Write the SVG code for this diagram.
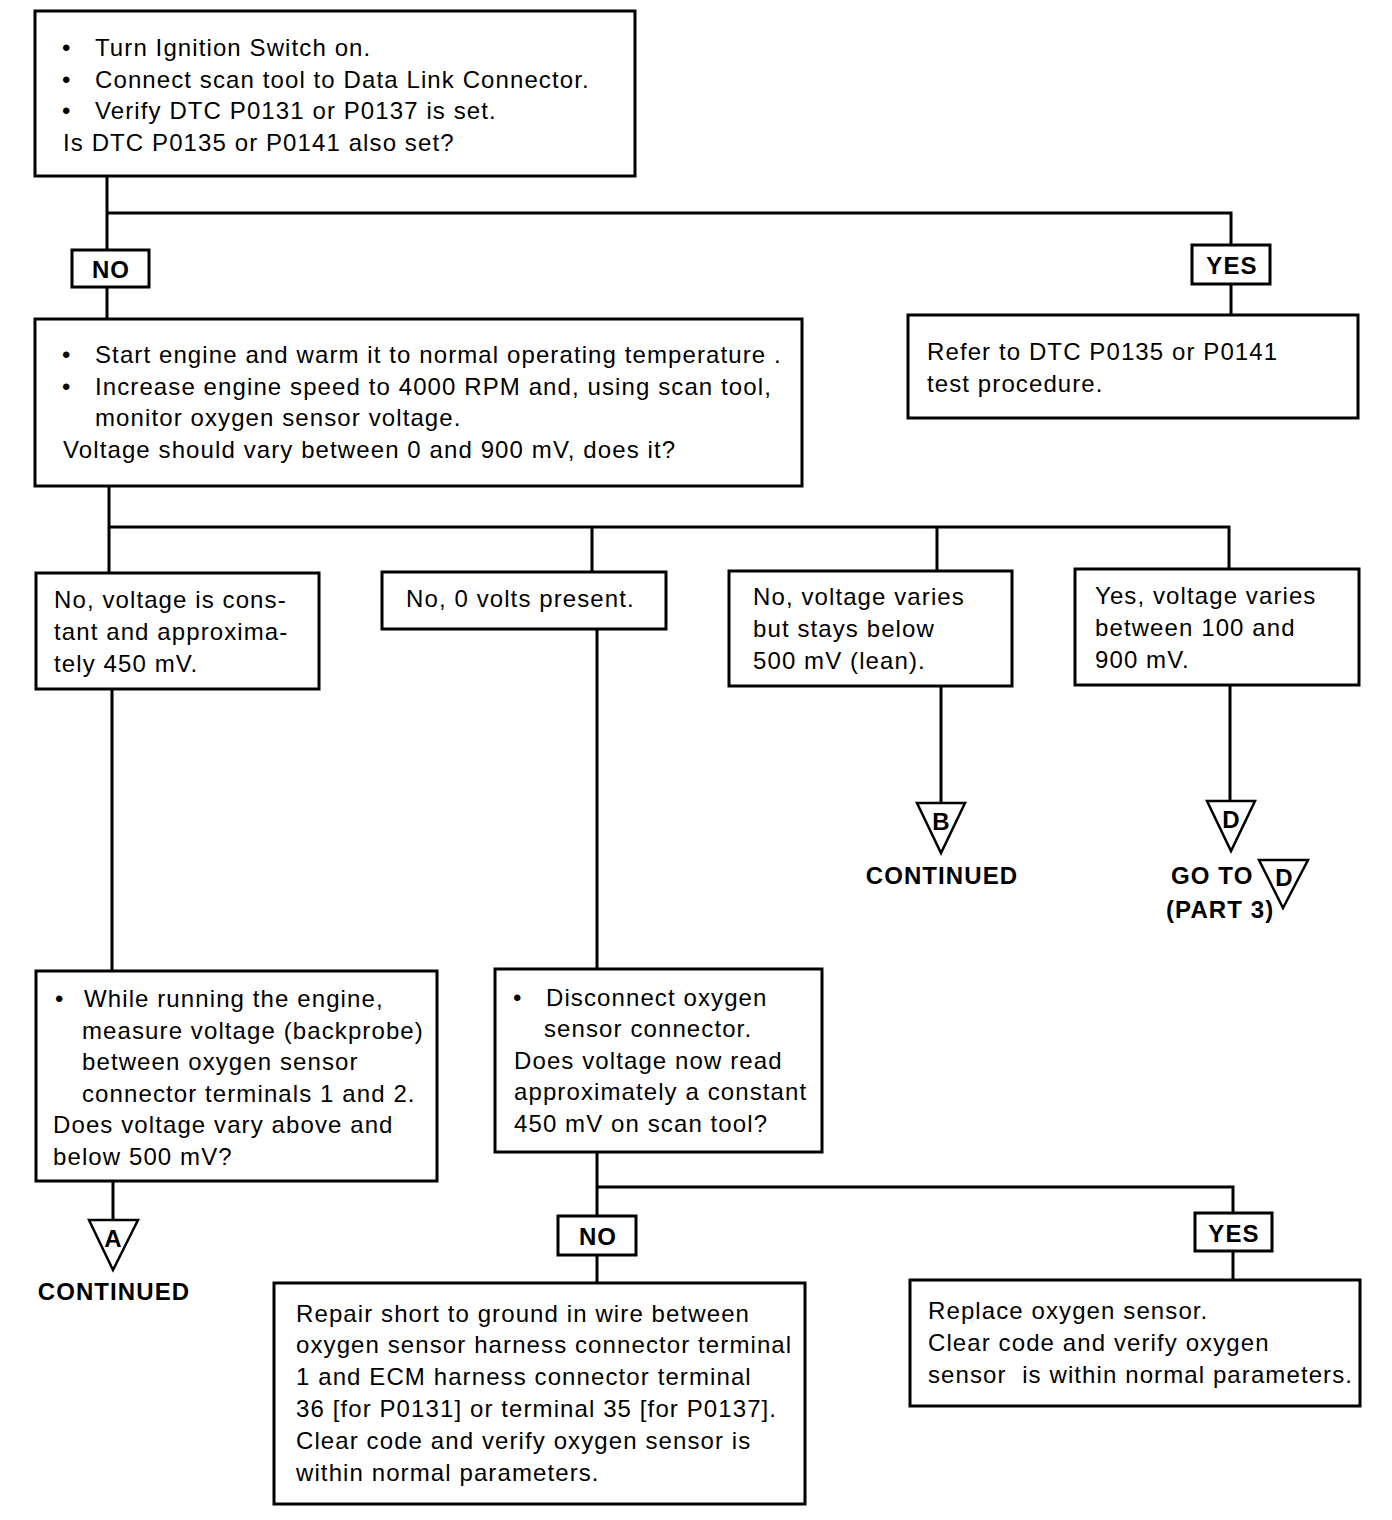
<svg xmlns="http://www.w3.org/2000/svg" width="1392" height="1520" viewBox="0 0 1392 1520">
<style>
.box{fill:#fff;stroke:#000;stroke-width:3}
.ln{fill:none;stroke:#000;stroke-width:3}
.tri{fill:#fff;stroke:#000;stroke-width:2.5}
text{font-family:"Liberation Sans",Arial,sans-serif;font-size:24px;letter-spacing:1.1px;fill:#000}
.b{font-weight:bold}
.c{text-anchor:middle}
.t{font-size:24px;letter-spacing:0}
</style>
<rect width="1392" height="1520" fill="#fff"/>
<g id="connectors">
<path class="ln" d="M107 176V250M107 213H1231V245M107 287V319M1231 284V315"/>
<path class="ln" d="M109 486V573M109 527H1229V569M592 527V572M937 527V571"/>
<path class="ln" d="M112 689V971M597 629V969M941 686V803M1230 685V801"/>
<path class="ln" d="M113 1181V1220M597 1152V1216M597 1187H1233V1213M597 1255V1283M1233 1251V1280"/>
</g>
<g id="n1"><rect class="box" x="35" y="11" width="600" height="165"/>
<text x="62" y="56">•</text><text x="95" y="56">Turn Ignition Switch on.</text>
<text x="62" y="88">•</text><text x="95" y="88">Connect scan tool to Data Link Connector.</text>
<text x="62" y="119">•</text><text x="95" y="119">Verify DTC P0131 or P0137 is set.</text>
<text x="63" y="151">Is DTC P0135 or P0141 also set?</text></g>
<g id="no1"><rect class="box" x="72" y="250" width="77" height="37"/><text class="b c" x="111" y="278">NO</text></g>
<g id="yes1"><rect class="box" x="1192" y="245" width="78" height="39"/><text class="b c" x="1232" y="274">YES</text></g>
<g id="n2"><rect class="box" x="35" y="319" width="767" height="167"/>
<text x="62" y="363">•</text><text x="95" y="363">Start engine and warm it to normal operating temperature .</text>
<text x="62" y="395">•</text><text x="95" y="395">Increase engine speed to 4000 RPM and, using scan tool,</text>
<text x="95" y="426">monitor oxygen sensor voltage.</text>
<text x="63" y="458">Voltage should vary between 0 and 900 mV, does it?</text></g>
<g id="n3"><rect class="box" x="908" y="315" width="450" height="103"/>
<text x="927" y="360">Refer to DTC P0135 or P0141</text>
<text x="927" y="392">test procedure.</text></g>
<g id="na"><rect class="box" x="36" y="573" width="283" height="116"/>
<text x="54" y="608">No, voltage is cons-</text><text x="54" y="640">tant and approxima-</text><text x="54" y="672">tely 450 mV.</text></g>
<g id="nb"><rect class="box" x="382" y="572" width="284" height="57"/>
<text x="406" y="607">No, 0 volts present.</text></g>
<g id="nc"><rect class="box" x="729" y="571" width="283" height="115"/>
<text x="753" y="605">No, voltage varies</text><text x="753" y="637">but stays below</text><text x="753" y="669">500 mV (lean).</text></g>
<g id="nd"><rect class="box" x="1075" y="569" width="284" height="116"/>
<text x="1095" y="604">Yes, voltage varies</text><text x="1095" y="636">between 100 and</text><text x="1095" y="668">900 mV.</text></g>
<g id="tB"><path class="tri" d="M917 803H965L941 853Z"/><text class="b c t" x="941" y="830">B</text>
<text class="b c" x="942" y="884">CONTINUED</text></g>
<g id="tD"><path class="tri" d="M1207 801H1255L1231 851Z"/><text class="b c t" x="1231" y="828">D</text>
<text class="b" x="1171" y="884">GO TO</text>
<path class="tri" d="M1259 860H1308L1283 908Z"/><text class="b c t" x="1284" y="886">D</text>
<text class="b" x="1166" y="918">(PART 3)</text></g>
<g id="ne"><rect class="box" x="36" y="971" width="401" height="210"/>
<text x="55" y="1007">•</text><text x="84" y="1007">While running the engine,</text>
<text x="82" y="1039">measure voltage (backprobe)</text>
<text x="82" y="1070">between oxygen sensor</text>
<text x="82" y="1102">connector terminals 1 and 2.</text>
<text x="53" y="1133">Does voltage vary above and</text>
<text x="53" y="1165">below 500 mV?</text></g>
<g id="nf"><rect class="box" x="495" y="969" width="327" height="183"/>
<text x="513" y="1006">•</text><text x="546" y="1006">Disconnect oxygen</text>
<text x="544" y="1037">sensor connector.</text>
<text x="514" y="1069">Does voltage now read</text>
<text x="514" y="1100">approximately a constant</text>
<text x="514" y="1132">450 mV on scan tool?</text></g>
<g id="tA"><path class="tri" d="M89 1220H138L113 1270Z"/><text class="b c t" x="113" y="1247">A</text>
<text class="b c" x="114" y="1300">CONTINUED</text></g>
<g id="no2"><rect class="box" x="558" y="1216" width="78" height="39"/><text class="b c" x="598" y="1245">NO</text></g>
<g id="yes2"><rect class="box" x="1195" y="1213" width="77" height="38"/><text class="b c" x="1234" y="1242">YES</text></g>
<g id="ng"><rect class="box" x="274" y="1283" width="531" height="221"/>
<text x="296" y="1322">Repair short to ground in wire between</text>
<text x="296" y="1353">oxygen sensor harness connector terminal</text>
<text x="296" y="1385">1 and ECM harness connector terminal</text>
<text x="296" y="1417">36 [for P0131] or terminal 35 [for P0137].</text>
<text x="296" y="1449">Clear code and verify oxygen sensor is</text>
<text x="296" y="1481">within normal parameters.</text></g>
<g id="nh"><rect class="box" x="910" y="1280" width="450" height="126"/>
<text x="928" y="1319">Replace oxygen sensor.</text>
<text x="928" y="1351">Clear code and verify oxygen</text>
<text x="928" y="1383" style="white-space:pre">sensor  is within normal parameters.</text></g>
</svg>
